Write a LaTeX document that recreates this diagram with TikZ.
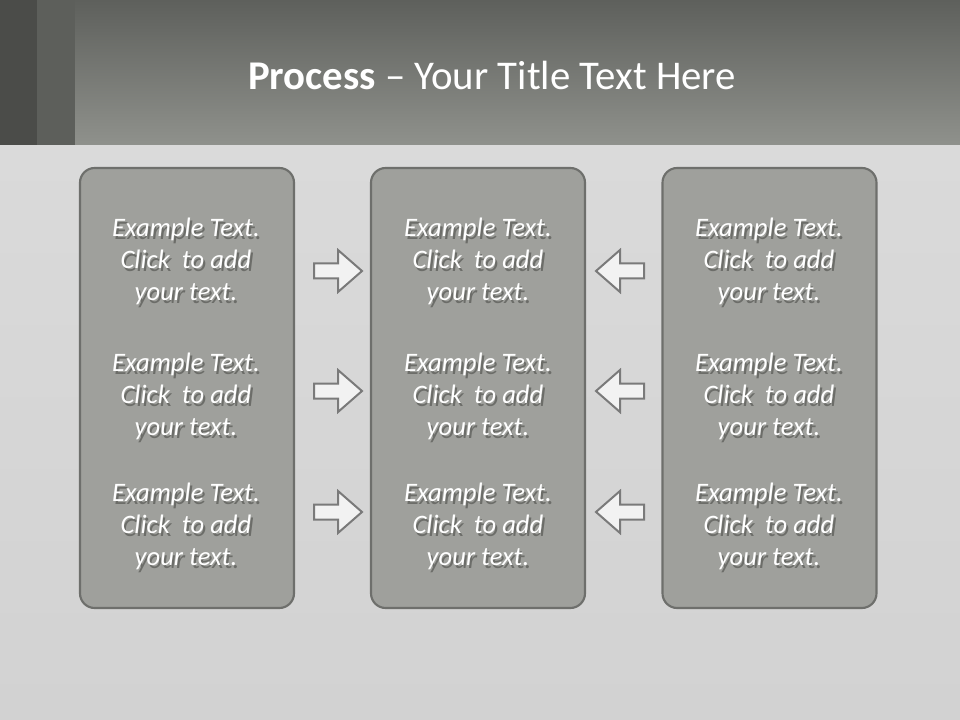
\documentclass[tikz,border=0pt]{standalone}
\usepackage{fontspec}
\setmainfont{Carlito}
\usetikzlibrary{shadings}
\definecolor{hdtop}{HTML}{5E605C}
\definecolor{hdbot}{HTML}{8F918C}
\definecolor{stripA}{HTML}{4B4C49}
\definecolor{stripB}{HTML}{5D5F5B}
\definecolor{bodytop}{HTML}{DADADA}
\definecolor{bodybot}{HTML}{D2D2D2}
\definecolor{boxfill}{HTML}{9FA09C}
\definecolor{boxline}{HTML}{6E6F6C}
\definecolor{arrfill}{HTML}{F2F2F2}
\definecolor{arrline}{HTML}{7A7A7A}
\definecolor{shadowc}{HTML}{6C6D69}
\newcommand{\shl}[1]{\leavevmode\rlap{\hspace{1.6pt}\raisebox{-1.9pt}[0pt][0pt]{\color{shadowc}#1}}#1}
\newcommand{\blocktext}{\shl{Example Text.}\\\shl{Click\ \ to add}\\\shl{your text.}}
\tikzset{
  panel/.style={draw=boxline, line width=1.6pt, fill=boxfill, rounded corners=11pt},
  bodytxt/.style={text=white, font=\fontsize{20}{24}\selectfont\itshape, align=center, inner sep=0pt},
  arrowshape/.style={draw=arrline, fill=arrfill, line width=1.5pt, line join=miter},
}
\newcommand{\rarrow}[2]{%
  \draw[arrowshape] (#1-24,#2-7.5) -- (#1,#2-7.5) -- (#1,#2-21) -- (#1+24,#2) -- (#1,#2+21) -- (#1,#2+7.5) -- (#1-24,#2+7.5) -- cycle;}
\newcommand{\larrow}[2]{%
  \draw[arrowshape] (#1+24,#2-7.5) -- (#1,#2-7.5) -- (#1,#2-21) -- (#1-24,#2) -- (#1,#2+21) -- (#1,#2+7.5) -- (#1+24,#2+7.5) -- cycle;}
\begin{document}
\begin{tikzpicture}[x=0.75pt,y=-0.75pt]
\useasboundingbox (0,0) rectangle (960,720);
% body background
\shade[top color=bodytop, bottom color=bodybot] (0,145) rectangle (960,720);
% header
\shade[top color=hdtop, bottom color=hdbot] (0,0) rectangle (960,145);
\fill[stripA] (0,0) rectangle (37,145);
\fill[stripB] (37,0) rectangle (75,145);
\node[text=white, font=\fontsize{30.6}{36}\selectfont, inner sep=0pt] (title) at (492,75) {\textbf{Process} – Your Title Text Here};
% panels
\node[panel, minimum width=214*0.75pt, minimum height=440*0.75pt] (p1) at (187,388) {};
\node[panel, minimum width=214*0.75pt, minimum height=440*0.75pt] (p2) at (478,388) {};
\node[panel, minimum width=214*0.75pt, minimum height=440*0.75pt] (p3) at (769.5,388) {};
% texts
\foreach \cx/\pn in {186/a,478/b,769/c}{
  \foreach \cy/\rn in {261.5/1,396.5/2,526.5/3}{
    \node[bodytxt] (t\pn\rn) at (\cx,\cy) {\blocktext};
  }
}
% arrows
\rarrow{338}{271}
\rarrow{338}{391}
\rarrow{338}{512}
\larrow{620}{271}
\larrow{620}{391}
\larrow{620}{512}
\end{tikzpicture}
\end{document}
